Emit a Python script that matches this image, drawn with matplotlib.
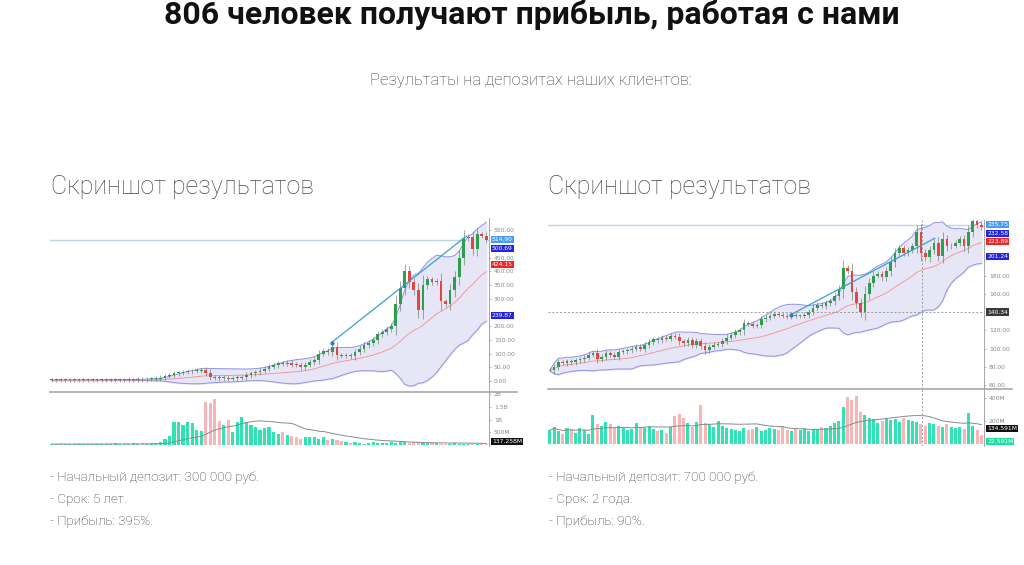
# две панели со скриншотами торговых графиков (свечи + полосы Боллинджера + объём)

import matplotlib
matplotlib.use('Agg')
import matplotlib.pyplot as plt
from matplotlib.lines import Line2D
import numpy as np
import pandas as pd

W, H = 1024, 565

title = "806 человек получают прибыль, работая с нами"
subtitle = "Результаты на депозитах наших клиентов:"
header = "Скриншот результатов"
left_notes = ["- Начальный депозит: 300 000 руб.", "- Срок: 5 лет.", "- Прибыль: 395%."]
right_notes = ["- Начальный депозит: 700 000 руб.", "- Срок: 2 года.", "- Прибыль: 90%."]

# левый график: цены закрытия и объём (млрд)
left_close = [3, 3, 3, 3, 3, 3, 3, 3, 3, 4, 4, 4, 4, 4, 4, 4, 4, 5, 5, 7,
              6, 7, 8, 9, 12, 18, 22, 28, 30, 33, 35, 37, 38, 40, 30, 15, 12, 10, 12, 8,
              10, 12, 15, 22, 28, 32, 38, 45, 52, 58, 64, 62, 66, 60, 58, 50, 60, 70, 78, 100,
              110, 105, 125, 95, 92, 93, 90, 105, 118, 130, 138, 150, 170, 180, 190, 200, 280, 340, 400, 360,
              330, 260, 350, 370, 360, 365, 290, 280, 330, 380, 450, 520, 525, 480, 535, 530, 514]
left_volume = [0.04, 0.03, 0.05, 0.02, 0.04, 0.05, 0.03, 0.04, 0.03, 0.05, 0.04, 0.03, 0.05, 0.04, 0.06, 0.04,
               0.05, 0.03, 0.06, 0.05, 0.07, 0.05, 0.06, 0.08,
               0.12, 0.25, 0.35, 0.9, 0.9, 0.8, 0.9, 0.85, 0.6, 0.55, 1.7, 1.65, 1.82,
               0.95, 0.8, 1.0, 0.5, 0.9, 1.1, 0.9, 0.8, 0.7, 0.6, 0.65, 0.7, 0.5, 0.45, 0.5, 0.4,
               0.35, 0.3, 0.25, 0.3, 0.32, 0.3, 0.25, 0.3, 0.2, 0.25, 0.2, 0.15, 0.12, 0.08, 0.1, 0.06,
               0.05, 0.08, 0.1, 0.07, 0.09, 0.06, 0.1, 0.08, 0.12, 0.1, 0.09, 0.11, 0.1, 0.08, 0.07, 0.09,
               0.06, 0.05, 0.04, 0.05, 0.06, 0.04, 0.05, 0.03, 0.04, 0.03, 0.02, 0.03]
left_ticks = [0, 50, 100, 150, 200, 300, 350, 400, 450, 550]
left_vol_ticks = [0.5, 1, 1.5, 2]
left_vol_labels = ["500M", "1B", "1.5B", "2B"]
left_tags = [514.90, 500.69, 424.15, 239.87]
left_hline = 514.90
left_trend_x = [61.8, 91.6]
left_trend_y = [140, 528]
left_vol_tag = [0.137, "137.258M"]

# правый график: цены закрытия и объём (млн)
right_close = [76, 80, 85, 84, 86, 85, 87, 88, 90, 93, 95, 88, 91, 95, 93, 91, 96, 97, 98, 100,
               102, 100, 104, 107, 110, 109, 112, 111, 114, 113, 108, 106, 109, 104, 108, 103, 98, 102, 104, 105,
               108, 112, 115, 118, 120, 128, 127, 125, 126, 132, 134, 136, 138, 137, 136, 135, 137, 136, 136, 137,
               140, 145, 148, 147, 150, 152, 158, 165, 188, 185, 162, 150, 140, 160, 172, 180, 182, 178, 185, 195,
               205, 210, 205, 208, 212, 228, 205, 200, 208, 216, 202, 220, 212, 213, 216, 220, 212, 228, 240, 236,
               233]
right_volume = [120, 150, 110, 90, 140, 130, 100, 140, 120, 90, 250, 170, 160, 190, 170, 150, 160, 140, 120, 130,
                180, 150, 140, 160, 130, 110, 120, 100, 150, 240, 260, 230, 180, 150, 190, 340, 180, 170, 150, 200,
                160, 140, 130, 120, 110, 140, 120, 130, 150, 110, 120, 140, 130, 120, 160, 120, 110, 130, 120, 140,
                110, 120, 130, 150, 140, 160, 180, 200, 320, 410, 380, 420, 280, 250, 230, 220, 180, 200, 230, 210,
                220, 190, 230, 210, 200, 190, 170, 160, 180, 170, 160, 150, 170, 150, 140, 150, 130, 270, 160, 120,
                80]
right_ticks = [60, 80, 100, 120, 160, 180]
right_vol_ticks = [200, 400]
right_vol_labels = ["200M", "400M"]
right_tags = [235.75, 232.58, 223.89, 201.24]
right_hline = 235.75
right_trend_x = [55.8, 89.2]
right_trend_y = [137, 221]
right_cross = [86.2, 140, "140.34"]
right_vol_tags = [[134.591, "134.591M", '#111111'], [22.591, "22.591M", '#22dd9c']]

tag_colors = ['#4a9cf0', '#2424e8', '#ec2626', '#2424e0']
GREEN, RED = '#2f9e4c', '#e8433c'
VGREEN, VPINK = '#2fe3b3', '#f8b5b5'

fig = plt.figure(figsize=(W / 100, H / 100), dpi=100)
fig.patch.set_facecolor('white')
LIGHT = ['Roboto', 'DejaVu Sans']


def px_axes(x0, y0, x1, y1):
    return fig.add_axes([x0 / W, 1 - y1 / H, (x1 - x0) / W, (y1 - y0) / H])


def style_axes(ax):
    for s in ['top', 'left', 'bottom']:
        ax.spines[s].set_visible(False)
    ax.spines['right'].set_color('#999999')
    ax.spines['right'].set_linewidth(0.6)
    ax.set_xticks([])
    ax.yaxis.tick_right()
    ax.tick_params(axis='y', labelsize=4.3, colors='#888888', length=1.5, width=0.4, pad=2)
    ax.patch.set_alpha(0)


def candles(ax, close):
    c = np.array(close, float)
    o = np.r_[c[0], c[:-1]]
    x = np.arange(len(c))
    rng = ax.get_ylim()[1] - ax.get_ylim()[0]
    body = np.abs(c - o)
    wick = 0.3 * body + 0.012 * rng
    ax.vlines(x, np.minimum(o, c) - wick, np.maximum(o, c) + wick, color='#5a6a5a', lw=0.4, zorder=3)
    ax.bar(x, np.maximum(body, rng * 0.005), bottom=np.minimum(o, c), width=0.62,
           color=np.where(c >= o, GREEN, RED), zorder=4)
    return c >= o


def bands(ax, close):
    s = pd.Series(close, dtype=float)
    mid = s.rolling(20, min_periods=1).mean()
    sd = s.rolling(20, min_periods=1).std().fillna(0)
    x = np.arange(len(s))
    ax.fill_between(x, mid - 2 * sd, mid + 2 * sd, color='#e6e6f6', zorder=1)
    ax.plot(x, mid + 2 * sd, color='#9294e4', lw=0.7, zorder=2)
    ax.plot(x, mid - 2 * sd, color='#9294e4', lw=0.7, zorder=2)
    ax.plot(x, mid, color='#f29090', lw=0.6, zorder=2)


def volume(ax, vol, up):
    x = np.arange(len(vol))
    ax.bar(x, vol, width=0.7, color=np.where(up, VGREEN, VPINK), zorder=2)
    ma = pd.Series(vol, dtype=float).rolling(20, min_periods=1).mean()
    ax.plot(x, ma, color='#8a8a8a', lw=0.7, zorder=3)


def tags(ax, values, texts, colors, x_px, gap=8.5):
    ys = [ax.transData.transform((0, v))[1] for v in values]
    placed = []
    for y, t, col in sorted(zip(ys, texts, colors), key=lambda r: -r[0]):
        if placed and placed[-1] - y < gap:
            y = placed[-1] - gap
        placed.append(y)
        fig.text(x_px / W, y / H, t, fontsize=4.3, color='white', va='center', ha='left',
                 bbox=dict(boxstyle='square,pad=0.18', fc=col, ec='none'))


def panel(x0, x1, y_top, y_sep, y_bot, close, vol, ylim, vlim, ticks, vticks, vlabels,
          tag_vals, hline, tx, ty):
    ax = px_axes(x0, y_top, x1, y_sep)
    axv = px_axes(x0, y_sep, x1, y_bot)
    n = len(close)
    for a in (ax, axv):
        style_axes(a)
        a.set_xlim(-0.4, n - 0.4)
    ax.set_ylim(*ylim)
    axv.set_ylim(*vlim)
    bands(ax, close)
    up = candles(ax, close)
    ax.axhline(hline, color='#bcd6e8', lw=1.0, zorder=0)
    ax.plot(tx, ty, color='#3a9fd2', lw=0.9, zorder=5)
    ax.plot(tx[0], ty[0], 'o', color='#2a7fc0', ms=2, zorder=6)
    ax.set_yticks(ticks)
    ax.set_yticklabels([f"{t:.2f}" for t in ticks])
    volume(axv, vol, up)
    axv.set_yticks(vticks)
    axv.set_yticklabels(vlabels)
    tags(ax, tag_vals, [f"{v:.2f}" for v in tag_vals], tag_colors, (x1 + 3))
    return ax, axv


# --- левая панель ---
axL, axLv = panel(50, 489, 218, 392, 446, left_close, left_volume, (-40, 594), (-0.04, 2.08),
                  left_ticks, left_vol_ticks, left_vol_labels, left_tags, left_hline,
                  left_trend_x, left_trend_y)
tags(axLv, [left_vol_tag[0]], [left_vol_tag[1]], ['#111111'], 492)

# --- правая панель ---
axR, axRv = panel(548, 984, 220, 389, 446, right_close, right_volume, (55.6, 241), (-17, 478),
                  right_ticks, right_vol_ticks, right_vol_labels, right_tags, right_hline,
                  right_trend_x, right_trend_y)
for a in (axR, axRv):
    a.axvline(right_cross[0], color='#9a9a9a', lw=0.7, ls=(0, (2, 2)), zorder=6)
axR.axhline(right_cross[1], color='#9a9a9a', lw=0.7, ls=(0, (2, 2)), zorder=6)
tags(axR, [right_cross[1]], [right_cross[2]], ['#3a3a3a'], 987)
tags(axRv, [v[0] for v in right_vol_tags], [v[1] for v in right_vol_tags], [v[2] for v in right_vol_tags], 987)

# разделители цена/объём
for xa, xb, y in [(50, 517, 392), (548, 1012, 389)]:
    fig.add_artist(Line2D([xa / W, xb / W], [1 - y / H] * 2, color='#a8a8a8', lw=1.2))

# --- тексты страницы ---
fig.text(532 / W, 1 - 24 / H, title, ha='center', va='baseline', fontsize=23, fontweight='bold',
         family=LIGHT, color='#111111')
fig.text(531 / W, 1 - 80 / H, subtitle, ha='center', va='center', fontsize=12, fontweight='light',
         family=LIGHT, color='#3c3c3c')
for x in (51, 548):
    fig.text(x / W, 1 - 187 / H, header, ha='left', va='center', fontsize=18, fontweight='light',
             family=LIGHT, color='#4a4a4a')
for x, notes in ((50, left_notes), (549, right_notes)):
    for k, t in enumerate(notes):
        fig.text(x / W, 1 - (477 + 22.5 * k) / H, t, ha='left', va='center', fontsize=9.6,
                 fontweight='light', family=LIGHT, color='#333333')

fig.savefig('out.png', dpi=100, facecolor='white')
